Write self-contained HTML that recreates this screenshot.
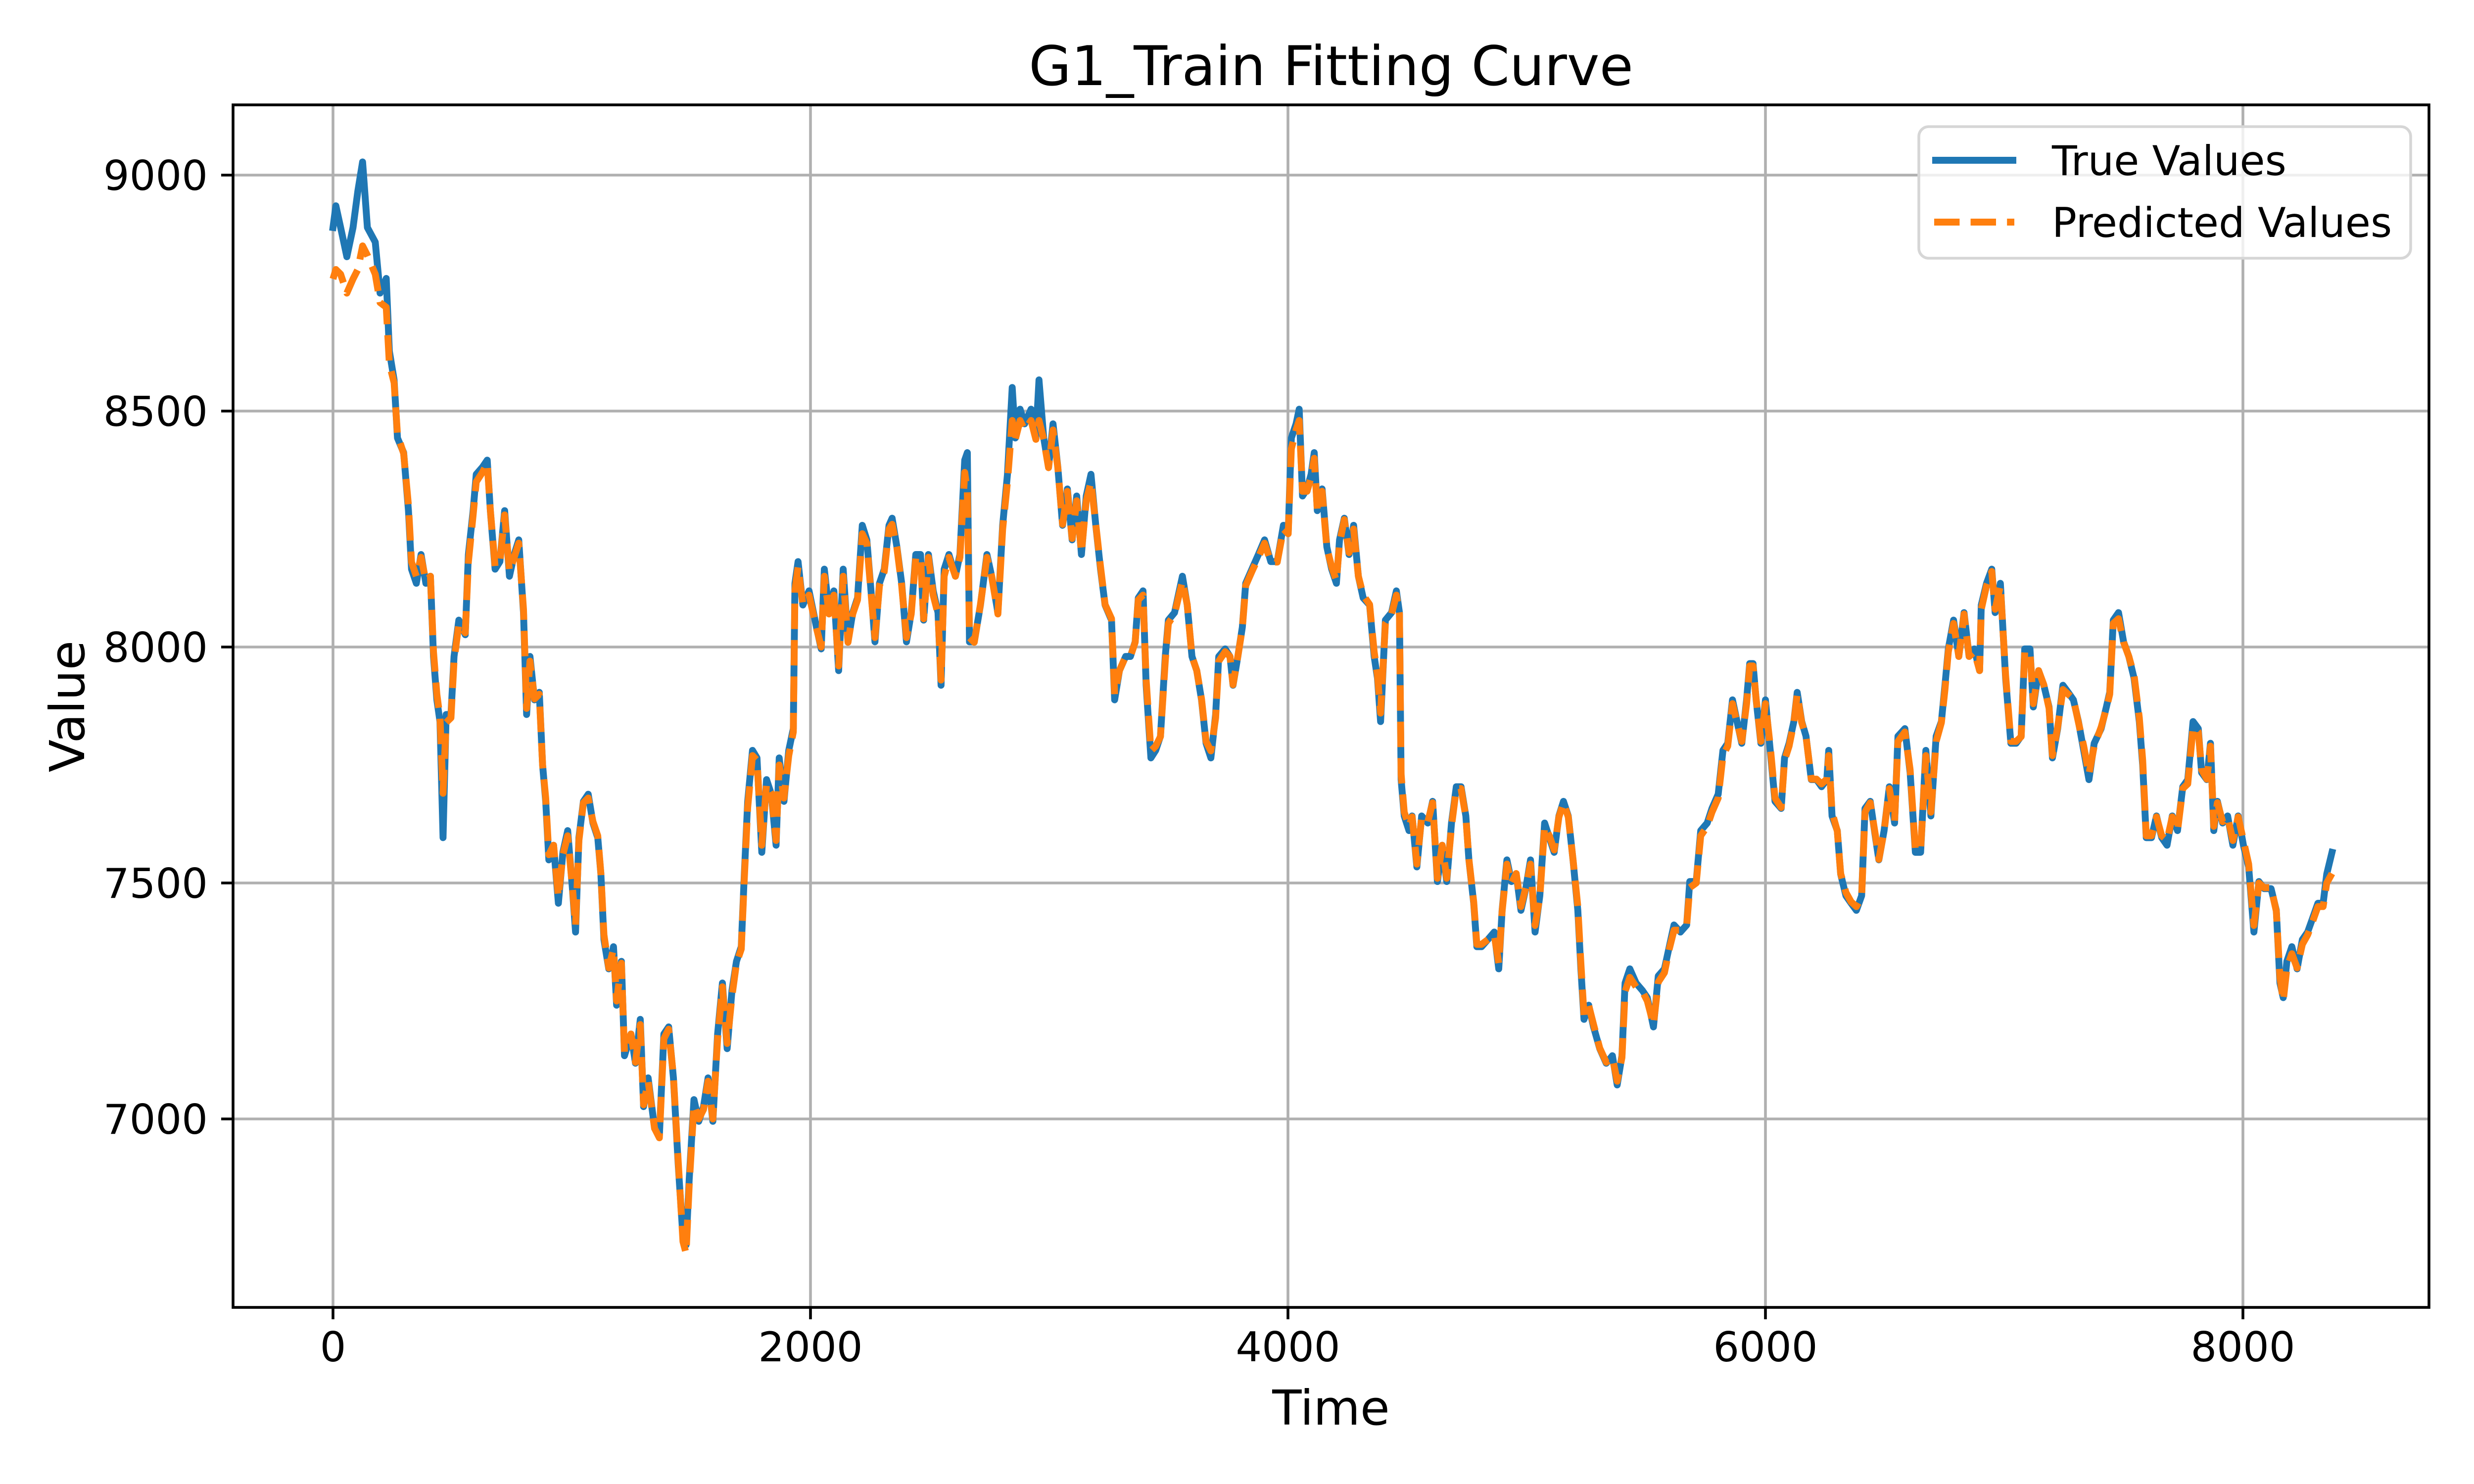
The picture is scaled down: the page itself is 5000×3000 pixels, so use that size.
<!DOCTYPE html>
<html><head><meta charset="utf-8"><title>G1_Train Fitting Curve</title>
<style>html,body{margin:0;padding:0;background:#fff}svg{display:block}text{font-family:"DejaVu Sans","Liberation Sans",sans-serif}</style>
</head><body>
<svg id="chart" width="5000" height="3000" viewBox="0 0 5000 3000" xmlns="http://www.w3.org/2000/svg">
<rect width="5000" height="3000" fill="#fff"/>
<g id="grid"></g>
<g id="series"></g>
<rect x="471" y="212" width="4438" height="2431" fill="none" stroke="#000" stroke-width="5.6"/>
<g id="ticks"></g>
<text x="2690" y="172" font-size="111" text-anchor="middle">G1_Train Fitting Curve</text>
<text x="2690" y="2880" font-size="97" text-anchor="middle">Time</text>
<text x="170" y="1428" font-size="97" text-anchor="middle" transform="rotate(-90 170 1428)">Value</text>
<g>
<rect x="3878" y="256" width="994" height="266" rx="20" fill="#fff" fill-opacity="0.8" stroke="#d6d6d6" stroke-width="5.6"/>
<line x1="3905" y1="324" x2="4075" y2="324" stroke="#1f77b4" stroke-width="13.9"/>
<text x="4147" y="354" font-size="83">True Values</text>
<line x1="3909" y1="449" x2="4071" y2="449" stroke="#ff7f0e" stroke-width="13.9" stroke-dasharray="51.4 22.2"/>
<text x="4147" y="479" font-size="83">Predicted Values</text>
</g>
</svg>
<script>
const times=[0,12,32,58,84,104,124,144,177,197,223,236,256,270,296,316,329,349,369,389,408,421,435,448,461,474,494,507,527,554,567,587,600,626,646,659,679,699,719,739,759,778,798,811,825,844,864,878,891,904,924,944,963,983,1003,1016,1030,1049,1069,1089,1109,1122,1135,1155,1175,1188,1208,1221,1248,1267,1287,1301,1320,1347,1367,1386,1406,1426,1446,1466,1479,1492,1512,1532,1552,1571,1591,1611,1631,1651,1671,1690,1710,1723,1737,1757,1776,1796,1816,1836,1856,1869,1889,1909,1928,1935,1948,1968,1994,
2025,2045,2058,2078,2098,2118,2137,2157,2177,2197,2217,2236,2256,2270,2289,2309,2329,2342,2362,2382,2402,2422,2441,2461,2474,2494,2514,2534,2547,2560,2580,2607,2626,2646,2657,2666,2686,2712,2739,2759,2785,2805,2825,2845,2858,2878,2897,2924,2944,2957,2977,2997,3016,3036,3056,3076,3096,3115,3135,3155,3175,3195,3215,3234,3261,3274,3294,3320,3340,3360,3373,3393,3406,3426,3446,3466,3486,3499,3525,3558,3578,3598,3618,3638,3657,3677,3697,3710,3737,3757,3770,3790,3809,3823,3849,3876,3902,3928,3955,3981,4001,4014,4034,4047,4061,4080,
4097,4110,4123,4143,4163,4183,4203,4216,4236,4256,4275,4295,4315,4342,4361,4375,4388,4408,4434,4454,4467,4474,4487,4507,4520,4540,4560,4586,4606,4626,4646,4665,4685,4705,4725,4745,4758,4778,4791,4811,4837,4864,4883,4897,4917,4936,4956,4976,4996,5016,5035,5055,5075,5095,5115,5135,5154,5174,5194,5214,5227,5240,5260,5280,5306,5333,5359,5379,5399,5412,5432,5458,5485,5505,5531,5551,5577,5597,5617,5644,5670,5683,5710,5729,5756,5776,5802,5822,5842,5862,5881,5901,5921,5934,5948,5961,5981,6000,6020,6040,6066,6080,6099,6119,6133,6152,
6170,6192,6214,6235,6257,6265,6279,6301,6315,6337,6359,6381,6403,6417,6439,6461,6475,6497,6519,6541,6555,6584,6606,6628,6650,6672,6693,6715,6737,6752,6766,6788,6810,6832,6853,6875,6897,6904,6926,6948,6962,6984,7006,7028,7050,7071,7086,7108,7122,7144,7166,7188,7202,7224,7246,7268,7290,7311,7333,7355,7377,7406,7428,7442,7457,7479,7500,7522,7544,7566,7580,7595,7617,7638,7660,7682,7704,7726,7748,7769,7791,7813,7827,7849,7864,7878,7893,7915,7936,7958,7980,8002,8024,8046,8067,8089,8118,8140,8155,8169,8184,8205,8227,8249,8271,8293,8314,8336,8351,8373];
const trueVals=[8889,8935,8889,8827,8889,8966,9028,8889,8858,8750,8781,8627,8566,8443,8412,8289,8165,8135,8196,8135,8150,7980,7888,7842,7596,7857,7857,7980,8057,8026,8196,8289,8366,8381,8396,8289,8165,8181,8289,8150,8196,8227,8073,7857,7980,7888,7904,7750,7673,7549,7580,7457,7565,7611,7488,7396,7596,7673,7688,7627,7596,7519,7380,7318,7365,7241,7334,7134,7180,7118,7211,7026,7087,6980,6964,7180,7195,7087,6903,6749,6733,6872,7041,6995,7026,7087,6995,7180,7288,7149,7272,7334,7365,7519,7673,7781,7765,7565,7719,7688,7580,7765,7673,7781,7827,8135,8181,8089,8119,
8042,7996,8165,8073,8119,7950,8165,8011,8073,8104,8258,8227,8104,8011,8135,8165,8258,8273,8212,8135,8011,8073,8196,8196,8057,8196,8119,8073,7919,8165,8196,8150,8196,8396,8412,8011,8011,8089,8196,8150,8073,8258,8366,8550,8443,8504,8473,8504,8443,8566,8443,8381,8473,8381,8258,8335,8227,8320,8196,8320,8366,8258,8165,8089,8057,7888,7950,7980,7980,8011,8104,8119,7919,7765,7781,7811,7980,8057,8073,8150,8089,7980,7950,7888,7796,7765,7857,7980,7996,7980,7919,7980,8042,8135,8165,8196,8227,8181,8181,8258,8242,8443,8473,8504,8320,8335,
8366,8412,8289,8335,8212,8165,8135,8227,8273,8196,8258,8150,8104,8089,7980,7934,7842,8057,8073,8119,8073,7719,7642,7611,7642,7534,7642,7627,7673,7503,7580,7503,7627,7704,7704,7642,7549,7457,7365,7365,7380,7396,7318,7442,7549,7503,7519,7442,7488,7549,7396,7473,7627,7596,7565,7642,7673,7642,7549,7442,7318,7211,7241,7195,7149,7118,7134,7072,7134,7288,7318,7288,7272,7257,7195,7303,7318,7365,7411,7396,7411,7503,7503,7611,7627,7658,7688,7781,7796,7888,7842,7796,7888,7965,7965,7888,7796,7888,7781,7673,7658,7765,7796,7842,7904,7842,
7811,7719,7719,7704,7719,7781,7642,7611,7519,7473,7457,7442,7473,7658,7673,7596,7549,7611,7704,7627,7811,7827,7734,7565,7565,7781,7642,7811,7842,7919,7996,8057,7980,8073,7980,7996,7950,8089,8135,8165,8073,8135,7934,7796,7796,7811,7996,7996,7873,7950,7919,7873,7765,7827,7919,7904,7888,7842,7781,7719,7796,7827,7873,7904,8057,8073,8011,7980,7934,7842,7750,7596,7596,7642,7596,7580,7642,7611,7704,7719,7842,7827,7734,7719,7796,7611,7673,7627,7642,7580,7642,7580,7534,7396,7503,7488,7488,7442,7288,7257,7334,7365,7318,7380,7396,7427,7457,7457,7519,7565];
const predVals=[8780,8800,8790,8750,8780,8800,8850,8830,8790,8730,8720,8600,8560,8450,8410,8300,8180,8150,8190,8140,8150,7990,7900,7850,7690,7840,7850,7970,8050,8030,8180,8280,8350,8370,8390,8290,8170,8180,8280,8160,8190,8220,8080,7870,7970,7890,7900,7750,7680,7560,7580,7470,7560,7600,7490,7410,7590,7670,7680,7630,7600,7520,7390,7320,7360,7250,7330,7140,7180,7120,7200,7030,7080,6980,6960,7170,7190,7090,6910,6740,6715,6860,7030,7000,7020,7080,7000,7170,7280,7160,7260,7330,7360,7510,7660,7770,7760,7580,7710,7690,7590,7750,7680,7770,7820,8120,8170,8090,8110,
8040,8000,8150,8070,8110,7960,8150,8010,8070,8100,8240,8220,8100,8020,8130,8160,8250,8260,8210,8130,8020,8070,8190,8190,8060,8190,8110,8070,7930,8150,8190,8150,8190,8370,8330,8020,8010,8090,8190,8150,8070,8250,8350,8480,8440,8480,8460,8480,8440,8480,8440,8380,8460,8380,8260,8330,8230,8310,8200,8310,8350,8260,8170,8090,8060,7900,7950,7980,7980,8010,8100,8110,7930,7780,7790,7810,7970,8050,8070,8140,8090,7980,7950,7890,7800,7780,7850,7970,7990,7980,7920,7980,8040,8130,8160,8190,8220,8180,8180,8250,8240,8420,8460,8480,8330,8330,
8360,8400,8290,8330,8210,8170,8140,8220,8270,8200,8250,8150,8110,8090,7990,7940,7860,8050,8070,8110,8070,7730,7650,7620,7640,7540,7640,7630,7670,7510,7580,7510,7620,7700,7700,7640,7550,7460,7370,7370,7380,7390,7330,7440,7540,7500,7520,7450,7490,7540,7410,7470,7620,7600,7570,7640,7670,7640,7550,7450,7330,7220,7240,7200,7150,7120,7130,7080,7130,7270,7300,7280,7270,7250,7200,7290,7310,7360,7400,7400,7410,7490,7500,7600,7620,7650,7680,7770,7790,7880,7840,7800,7880,7960,7960,7890,7800,7880,7790,7680,7660,7760,7790,7840,7900,7840,
7810,7720,7720,7710,7720,7770,7650,7610,7520,7480,7460,7450,7470,7650,7670,7600,7550,7610,7700,7630,7800,7820,7740,7570,7570,7770,7650,7800,7840,7910,7990,8050,7980,8070,7980,7990,7950,8080,8130,8160,8080,8130,7940,7800,7800,7810,7990,7990,7880,7950,7920,7870,7770,7830,7910,7900,7890,7840,7790,7730,7790,7830,7870,7900,8050,8060,8010,7980,7940,7850,7760,7600,7600,7640,7600,7590,7640,7610,7700,7710,7830,7820,7740,7720,7790,7620,7670,7630,7640,7590,7640,7590,7540,7410,7500,7490,7490,7440,7300,7250,7320,7350,7320,7370,7390,7420,7450,7450,7500,7520];
const xTicks=[0,2000,4000,6000,8000];
const yTicks=[7000,7500,8000,8500,9000];
const yTickLabels=["7000","7500","8000","8500","9000"];
const NS="http://www.w3.org/2000/svg";
const L=471,R=4909,T=212,B=2643;
function X(t){return 673+t*0.4825;}
function Y(v){return 1308-(v-8000)*0.954;}
function mk(tag,attrs,parent){const e=document.createElementNS(NS,tag);for(const k in attrs)e.setAttribute(k,attrs[k]);parent.appendChild(e);return e;}
const grid=document.getElementById('grid'),ticks=document.getElementById('ticks'),series=document.getElementById('series');
xTicks.forEach(t=>{
 const g=mk('line',{x1:X(t),x2:X(t),y1:T,y2:B,stroke:'#b0b0b0','stroke-width':5.6},grid);
 
 
 const tk=mk('line',{x1:X(t),x2:X(t),y1:B,y2:B+24,stroke:'#000','stroke-width':5.6},ticks);
 
 
 const lb=mk('text',{x:X(t),y:2752,'font-size':83,'text-anchor':'middle'},ticks);
 lb.textContent=String(t);
 
 
});
yTicks.forEach((v,i)=>{
 const g=mk('line',{x1:L,x2:R,y1:Y(v),y2:Y(v),stroke:'#b0b0b0','stroke-width':5.6},grid);
 
 
 const tk=mk('line',{x1:L-24,x2:L,y1:Y(v),y2:Y(v),stroke:'#000','stroke-width':5.6},ticks);
 
 
 const lb=mk('text',{x:420,y:Y(v)+30,'font-size':83,'text-anchor':'end'},ticks);
 lb.textContent=yTickLabels[i];
 
 
});
function pathFor(vals){const n=Math.min(times.length,vals.length);let d='';for(let i=0;i<n;i++){d+=(i?'L':'M')+X(times[i]).toFixed(1)+' '+Y(vals[i]).toFixed(1);}return d;}
const tl=mk('path',{d:pathFor(trueVals),fill:'none',stroke:'#1f77b4','stroke-width':13.9,'stroke-linejoin':'round','stroke-linecap':'square'},series);


const pl=mk('path',{d:pathFor(predVals),fill:'none',stroke:'#ff7f0e','stroke-width':13.9,'stroke-linejoin':'round','stroke-dasharray':'51.4 22.2'},series);


</script>
</body></html>
